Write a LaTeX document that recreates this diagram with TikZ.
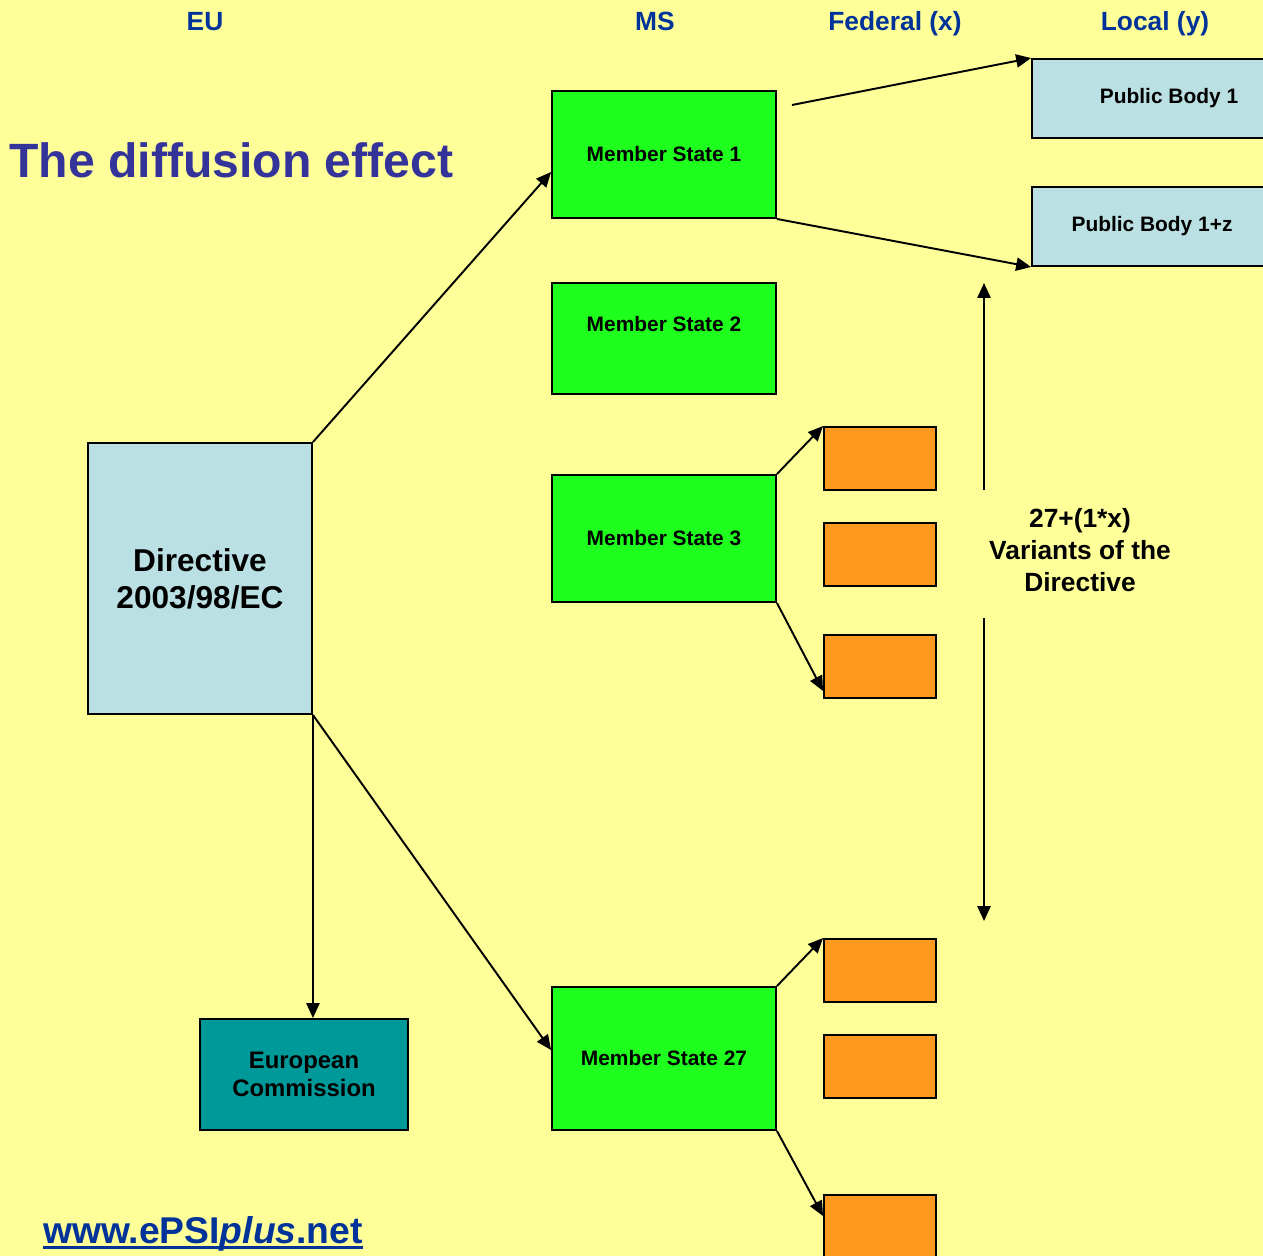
\documentclass[tikz,border=0pt]{standalone}
\usepackage{fontspec}
\setmainfont{Liberation Sans}
\usetikzlibrary{arrows.meta,calc}
\definecolor{bgy}{HTML}{FFFF99}
\definecolor{msgreen}{HTML}{1EFF1E}
\definecolor{lblue}{HTML}{BBE0E3}
\definecolor{orng}{HTML}{FF9A1E}
\definecolor{teal2}{HTML}{009999}
\definecolor{titleblue}{HTML}{333399}
\definecolor{headblue}{HTML}{003399}
\begin{document}
\begin{tikzpicture}[x=0.02cm,y=-0.02cm,
  box/.style={draw=black, line width=1.1pt, inner sep=0pt, align=center,
    font=\bfseries\fontsize{11.9}{14}\selectfont},
  msbox/.style={box, fill=msgreen, minimum width=4.48cm},
  pbbox/.style={box, fill=lblue, minimum height=1.58cm},
  fedbox/.style={box, fill=orng, minimum width=2.24cm, minimum height=1.26cm},
  head/.style={text=headblue, font=\bfseries\fontsize{15}{18}\selectfont, anchor=base, inner sep=0pt},
  conn/.style={draw=black, line width=1.1pt, -{Triangle[length=8.5pt,width=7.5pt]}}
]
\fill[bgy] (0,0) rectangle (1263,1256);
\useasboundingbox (0,0) rectangle (1263,1256);
\begin{scope}
\clip (0,0) rectangle (1263,1256);

% headers
\node[head] (hEU) at (205,31) {EU};
\node[head] (hMS) at (655,31) {MS};
\node[head] (hFed) at (895,31) {Federal (x)};
\node[head] (hLoc) at (1155,31) {Local (y)};

% title
\node[anchor=base west, inner sep=0pt, text=titleblue,
  font=\bfseries\fontsize{27.4}{30}\selectfont] (title) at (9,178) {The diffusion effect};

% directive
\node[box, fill=lblue, minimum width=4.48cm, minimum height=5.42cm,
  font=\bfseries\fontsize{18}{21}\selectfont] (dir) at (200,578.5) {Directive\\2003/98/EC};

% European Commission
\node[box, fill=teal2, minimum width=4.16cm, minimum height=2.22cm,
  font=\bfseries\fontsize{13.6}{15.9}\selectfont] (ec) at (304,1074.5) {European\\Commission};

% member states
\node[msbox, minimum height=2.54cm] (ms1) at (664,154.5) {Member State 1};
\node[msbox, minimum height=2.22cm, label={[yshift=0.29cm, font=\bfseries\fontsize{11.9}{14}\selectfont]center:Member State 2}] (ms2) at (664,338.5) {};
\node[msbox, minimum height=2.54cm] (ms3) at (664,538.5) {Member State 3};
\node[msbox, minimum height=2.86cm] (ms27) at (664,1058.5) {Member State 27};

% public bodies
\node[pbbox, minimum width=5.48cm] (pb1) at (1169,98.5) {Public Body 1};
\node[pbbox, minimum width=4.80cm] (pbz) at (1152,226.5) {Public Body 1+z};

% federal boxes
\node[fedbox] (f1) at (880,458.5) {};
\node[fedbox] (f2) at (880,554.5) {};
\node[fedbox] (f3) at (880,666.5) {};
\node[fedbox] (f4) at (880,970.5) {};
\node[fedbox] (f5) at (880,1066.5) {};
\node[fedbox] (f6) at (880,1226.5) {};

% variants text
\node[align=center, inner sep=0pt, font=\bfseries\fontsize{15}{18.1}\selectfont] (var) at (1080,550)
  {27+(1*x)\\Variants of the\\Directive};

% url
\node[anchor=base west, inner sep=0pt, text=headblue,
  font=\bfseries\fontsize{21.2}{24}\selectfont] (url) at (43,1243) {www.ePSI\textit{plus}.net};
\draw[headblue, line width=1.7pt] ([yshift=-0.09cm]url.base west) -- ([yshift=-0.09cm]url.base east);

% connectors
\draw[conn] (dir.north east) -- ([yshift=-0.35cm]ms1.west);
\draw[conn] (dir.south east) -- ([yshift=0.17cm]ms27.west);
\draw[conn] (dir.south east) -- (dir.south east |- ec.north);

\coordinate (s1) at (792,105);
\draw[conn] (s1) -- (pb1.north west);
\draw[conn] (ms1.south east) -- (pbz.south west);

\draw[conn] (ms3.north east) -- (f1.north west);
\draw[conn] (ms3.south east) -- ([yshift=0.16cm]f3.south west);
\draw[conn] (ms27.north east) -- (f4.north west);
\draw[conn] (ms27.south east) -- ([yshift=-0.44cm]f6.north west);

\coordinate (va) at (984,490);
\coordinate (vt) at (984,283);
\coordinate (vb) at (984,618);
\coordinate (vbe) at (984,921);
\draw[conn] (va) -- (vt);
\draw[conn] (vb) -- (vbe);
\end{scope}
\end{tikzpicture}
\end{document}
